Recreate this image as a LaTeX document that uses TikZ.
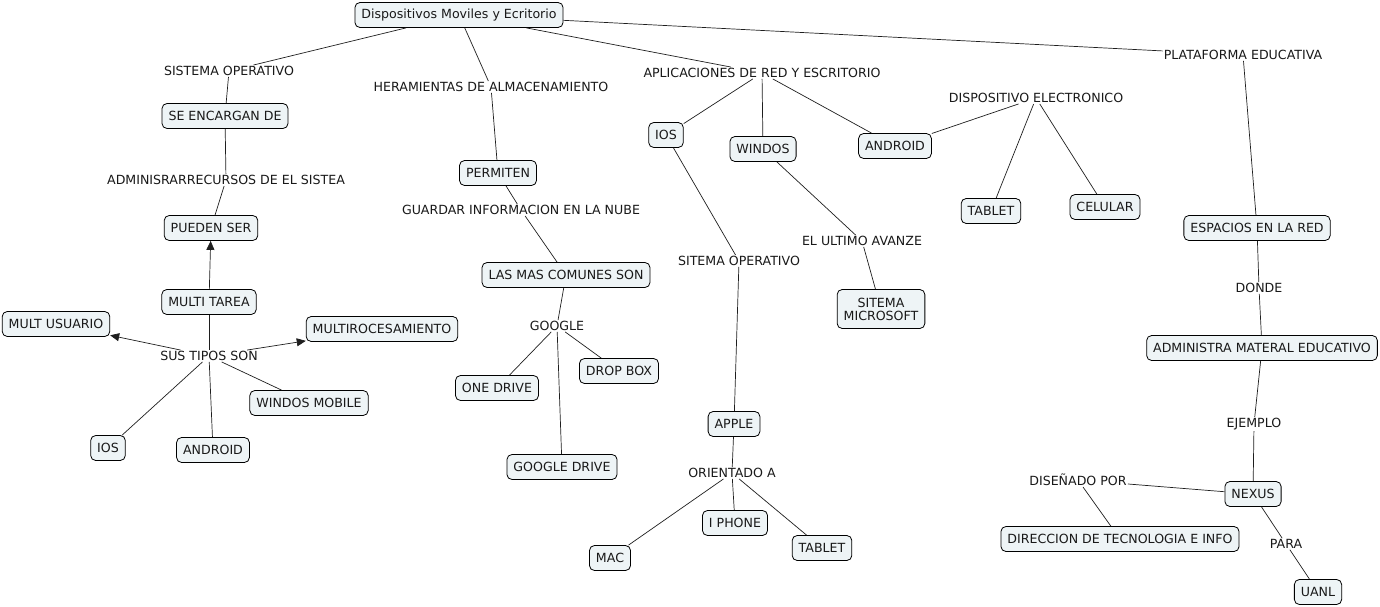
\documentclass[tikz,border=0pt]{standalone}
\usepackage{fontspec}
\setmainfont{DejaVu Sans}
\usetikzlibrary{arrows.meta}
\definecolor{boxfill}{RGB}{238,244,246}
\definecolor{linecol}{RGB}{30,30,30}
\begin{document}
\begin{tikzpicture}[x=1pt,y=-1pt,
  every node/.style={font=\fontsize{12.6}{14}\selectfont, text=black!90},
  box/.style={draw=black, line width=0.8pt, fill=boxfill, rounded corners=5pt, inner xsep=6.5pt, minimum height=25pt, inner ysep=3pt},
  lbl/.style={inner sep=1pt, fill=white},
  conn/.style={draw=linecol, line width=0.7pt},
  arr/.style={conn, -{Triangle[length=9pt,width=8pt]}}]
\useasboundingbox (0,0) rectangle (1380,607);
% concepts
\node[box] (root) at (459,15) {Dispositivos Moviles y Ecritorio};
\node[box] (encargan) at (225,116) {SE ENCARGAN DE};
\node[box] (pueden) at (211,228) {PUEDEN SER};
\node[box] (multitarea) at (209,302) {MULTI TAREA};
\node[box] (multusuario) at (56,324) {MULT USUARIO};
\node[box] (multiproc) at (382,329) {MULTIROCESAMIENTO};
\node[box] (winmobile) at (309,403) {WINDOS MOBILE};
\node[box] (iosl) at (108,448) {IOS};
\node[box] (androidl) at (213,450) {ANDROID};
\node[box] (permiten) at (498,173) {PERMITEN};
\node[box] (comunes) at (566,275) {LAS MAS COMUNES SON};
\node[box] (onedrive) at (497,388) {ONE DRIVE};
\node[box] (dropbox) at (619,371) {DROP BOX};
\node[box] (gdrive) at (562,467) {GOOGLE DRIVE};
\node[box] (iosm) at (666,135) {IOS};
\node[box] (windos) at (763,149) {WINDOS};
\node[box] (androidm) at (895,146) {ANDROID};
\node[box, align=center, minimum height=39pt, inner ysep=2pt] (microsoft) at (881,309) {SITEMA\\[-1pt]MICROSOFT};
\node[box] (apple) at (734,424) {APPLE};
\node[box] (iphone) at (735,523) {I PHONE};
\node[box] (mac) at (610,558) {MAC};
\node[box] (tableta) at (822,548) {TABLET};
\node[box] (tabletm) at (991,211) {TABLET};
\node[box] (celular) at (1105,207) {CELULAR};
\node[box] (espacios) at (1257,228) {ESPACIOS EN LA RED};
\node[box] (administra) at (1262,348) {ADMINISTRA MATERAL EDUCATIVO};
\node[box] (nexus) at (1253,494) {NEXUS};
\node[box] (direccion) at (1120,539) {DIRECCION DE TECNOLOGIA E INFO};
\node[box] (uanl) at (1318,592) {UANL};
% linking phrases
\node[lbl] (l1) at (229,71) {SISTEMA OPERATIVO};
\node[lbl] (l2) at (491,87) {HERAMIENTAS DE ALMACENAMIENTO};
\node[lbl] (l3) at (762,73) {APLICACIONES DE RED Y ESCRITORIO};
\node[lbl] (l4) at (1243,55) {PLATAFORMA EDUCATIVA};
\node[lbl] (l5) at (226,180) {ADMINISRARRECURSOS DE EL SISTEA};
\node[lbl] (l6) at (209,356) {SUS TIPOS SON};
\node[lbl] (l7) at (521,210) {GUARDAR INFORMACION EN LA NUBE};
\node[lbl] (l8) at (557,326) {GOOGLE};
\node[lbl] (l9) at (739,261) {SITEMA OPERATIVO};
\node[lbl] (l10) at (862,241) {EL ULTIMO AVANZE};
\node[lbl] (l11) at (1036,98) {DISPOSITIVO ELECTRONICO};
\node[lbl] (l12) at (732,473) {ORIENTADO A};
\node[lbl] (l13) at (1259,288) {DONDE};
\node[lbl] (l14) at (1254,424) {EJEMPLO};
\node[lbl] (l15) at (1078,480) {DISEÑADO POR};
\node[lbl] (l16) at (1286,544) {PARA};
% connectors
\path[conn] (root) -- (l1);
\path[conn] (l1) -- (encargan);
\path[conn] (encargan) -- (l5);
\path[conn] (l5) -- (pueden);
\path[arr] (multitarea) -- (pueden);
\path[conn] (l6) -- (multitarea);
\path[arr] (l6) -- (multusuario);
\path[arr] (l6) -- (multiproc);
\path[conn] (l6) -- (winmobile);
\path[conn] (l6) -- (iosl);
\path[conn] (l6) -- (androidl);
\path[conn] (root) -- (l2);
\path[conn] (l2) -- (permiten);
\path[conn] (permiten) -- (l7);
\path[conn] (l7) -- (comunes);
\path[conn] (comunes) -- (l8);
\path[conn] (l8) -- (onedrive);
\path[conn] (l8) -- (dropbox);
\path[conn] (l8) -- (gdrive);
\path[conn] (root) -- (l3);
\path[conn] (l3) -- (iosm);
\path[conn] (l3) -- (windos);
\path[conn] (l3) -- (androidm);
\path[conn] (iosm) -- (l9);
\path[conn] (l9) -- (apple);
\path[conn] (apple) -- (l12);
\path[conn] (l12) -- (mac);
\path[conn] (l12) -- (iphone);
\path[conn] (l12) -- (tableta);
\path[conn] (windos) -- (l10);
\path[conn] (l10) -- (microsoft);
\path[conn] (androidm) -- (l11);
\path[conn] (l11) -- (tabletm);
\path[conn] (l11) -- (celular);
\path[conn] (root) -- (l4);
\path[conn] (l4) -- (espacios);
\path[conn] (espacios) -- (l13);
\path[conn] (l13) -- (administra);
\path[conn] (administra) -- (l14);
\path[conn] (l14) -- (nexus);
\path[conn] (nexus) -- (l15);
\path[conn] (l15) -- (direccion);
\path[conn] (nexus) -- (l16);
\path[conn] (l16) -- (uanl);
\end{tikzpicture}
\end{document}
